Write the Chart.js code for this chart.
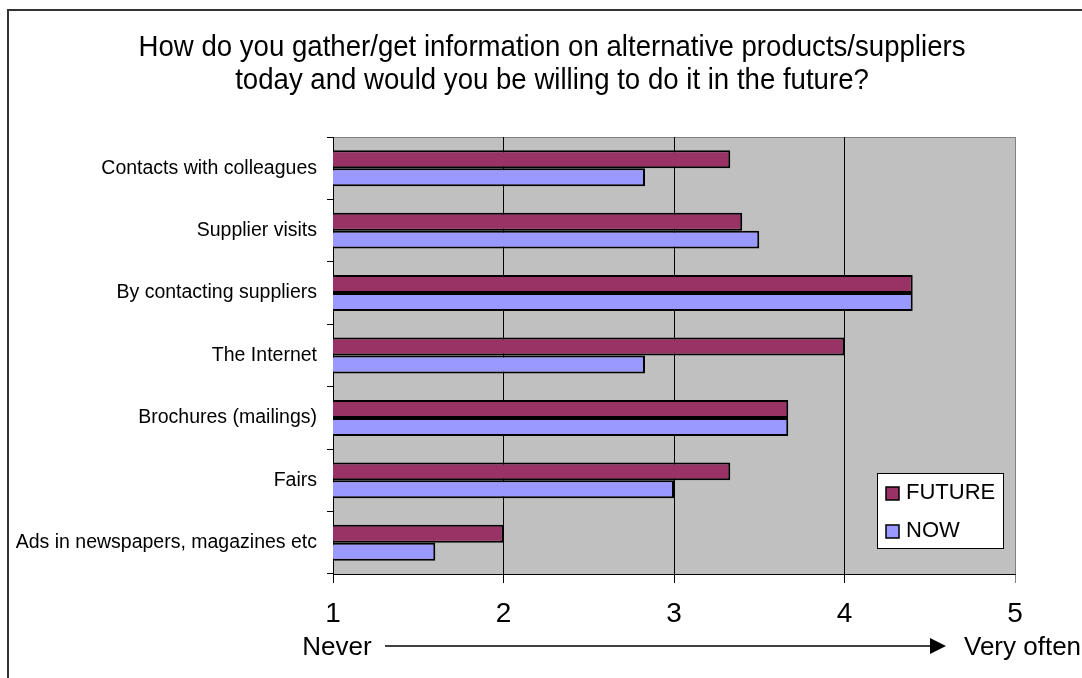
<!DOCTYPE html>
<html>
<head>
<meta charset="utf-8">
<script src="https://cdn.jsdelivr.net/npm/chart.js@4/dist/chart.umd.min.js"></script>
<style>
  html, body { margin: 0; padding: 0; background: #fff; }
  #wrap { width: 1082px; height: 678px; }
</style>
</head>
<body>
<div id="wrap"><canvas id="chart" width="1082" height="678"></canvas></div>
<script>
const titleLines = [
  "How do you gather/get information on alternative products/suppliers",
  "today and would you be willing to do it in the future?"
];
const categories = [
  "Contacts with colleagues",
  "Supplier visits",
  "By contacting suppliers",
  "The Internet",
  "Brochures (mailings)",
  "Fairs",
  "Ads in newspapers, magazines etc"
];
const futureValues = [3.33, 3.4, 4.4, 4.0, 3.67, 3.33, 2.0];
const nowValues = [2.83, 3.5, 4.4, 2.83, 3.67, 3.0, 1.6];
const xTicks = [1, 2, 3, 4, 5];
const scaleStartLabel = "Never";
const scaleEndLabel = "Very often";

const FONT = "'Liberation Sans', Arial, sans-serif";

// background, frame, title, legend and the Never -> Very often arrow
const decorations = {
  id: "decorations",
  beforeDraw(chart) {
    const { ctx, chartArea: a } = chart;
    ctx.save();
    ctx.fillStyle = "#fff";
    ctx.fillRect(0, 0, chart.width, chart.height);
    ctx.fillStyle = "#C0C0C0";
    ctx.fillRect(a.left, a.top, a.right - a.left, a.bottom - a.top);
    ctx.strokeStyle = "#808080";
    ctx.lineWidth = 1;
    ctx.beginPath();
    ctx.moveTo(a.left, a.top + 0.5);
    ctx.lineTo(a.right + 0.5, a.top + 0.5);
    ctx.stroke();
    ctx.restore();
  },
  afterDraw(chart) {
    const { ctx } = chart;
    const xScale = chart.scales.x;
    ctx.save();

    // outer border (only top and left are in the picture)
    ctx.strokeStyle = "#333";
    ctx.lineWidth = 2;
    ctx.beginPath();
    ctx.moveTo(8, chart.height);
    ctx.lineTo(8, 10);
    ctx.lineTo(chart.width, 10);
    ctx.stroke();

    // title, slightly condensed like the original
    ctx.fillStyle = "#000";
    ctx.font = "30px " + FONT;
    ctx.textAlign = "center";
    ctx.textBaseline = "alphabetic";
    ctx.save();
    ctx.translate(552, 0);
    ctx.scale(0.92, 1);
    ctx.fillText(titleLines[0], 0, 56);
    ctx.fillText(titleLines[1], 0, 89);
    ctx.restore();

    // axis annotation
    const x1 = xScale.getPixelForValue(xTicks[0]);
    const baseY = 655;
    const midY = 646;
    ctx.font = "26px " + FONT;
    ctx.textAlign = "center";
    ctx.fillText(scaleStartLabel, x1 + 4, baseY);
    ctx.textAlign = "left";
    ctx.fillText(scaleEndLabel, 964, baseY);
    ctx.strokeStyle = "#000";
    ctx.lineWidth = 1.5;
    ctx.beginPath();
    ctx.moveTo(385, midY);
    ctx.lineTo(932, midY);
    ctx.stroke();
    ctx.beginPath();
    ctx.moveTo(946, midY);
    ctx.lineTo(930, midY - 8);
    ctx.lineTo(930, midY + 8);
    ctx.closePath();
    ctx.fill();

    // legend
    const lx = 877, ly = 473, lw = 126, lh = 75;
    ctx.fillStyle = "#fff";
    ctx.fillRect(lx, ly, lw, lh);
    ctx.strokeStyle = "#000";
    ctx.lineWidth = 1;
    ctx.strokeRect(lx + 0.5, ly + 0.5, lw, lh);
    ctx.font = "22px " + FONT;
    ctx.textBaseline = "middle";
    ctx.textAlign = "left";
    chart.data.datasets.forEach((ds, i) => {
      const cy = 493 + i * 38;
      ctx.fillStyle = ds.backgroundColor;
      ctx.fillRect(886, cy - 6, 13, 13);
      ctx.strokeStyle = "#000";
      ctx.lineWidth = 1.5;
      ctx.strokeRect(886, cy - 6, 13, 13);
      ctx.fillStyle = "#000";
      ctx.fillText(ds.label, 906, cy);
    });
    ctx.restore();
  }
};

new Chart(document.getElementById("chart"), {
  type: "bar",
  data: {
    labels: categories,
    datasets: [
      {
        label: "FUTURE",
        data: futureValues,
        backgroundColor: "#993366",
        borderColor: "#000",
        borderWidth: 2,
        borderSkipped: false
      },
      {
        label: "NOW",
        data: nowValues,
        backgroundColor: "#9999FF",
        borderColor: "#000",
        borderWidth: 2,
        borderSkipped: false
      }
    ]
  },
  options: {
    indexAxis: "y",
    responsive: false,
    animation: false,
    devicePixelRatio: 1,
    layout: { padding: { top: 137, right: 67, left: 0, bottom: 0 } },
    datasets: { bar: { categoryPercentage: 0.575, barPercentage: 1 } },
    plugins: {
      legend: { display: false },
      title: { display: false },
      tooltip: { enabled: false }
    },
    scales: {
      x: {
        type: "linear",
        min: xTicks[0],
        max: xTicks[xTicks.length - 1],
        afterBuildTicks: (scale) => {
          scale.ticks = xTicks.map((v) => ({ value: v }));
        },
        afterFit: (scale) => { scale.height = 104; },
        ticks: {
          color: "#000",
          font: { family: FONT, size: 28 },
          padding: 14
        },
        grid: {
          color: (c) => (c.tick && c.tick.value === 5 ? "#808080" : "#000"),
          lineWidth: 1,
          tickLength: 9
        },
        border: { color: "#000", width: 1 }
      },
      y: {
        type: "category",
        afterFit: (scale) => { scale.width = 333; },
        ticks: {
          color: "#000",
          font: { family: FONT, size: 19.5 },
          padding: 10
        },
        grid: {
          offset: true,
          drawOnChartArea: false,
          color: "#000",
          tickLength: 6
        },
        border: { color: "#000", width: 1 }
      }
    }
  },
  plugins: [decorations]
});
</script>
</body>
</html>
